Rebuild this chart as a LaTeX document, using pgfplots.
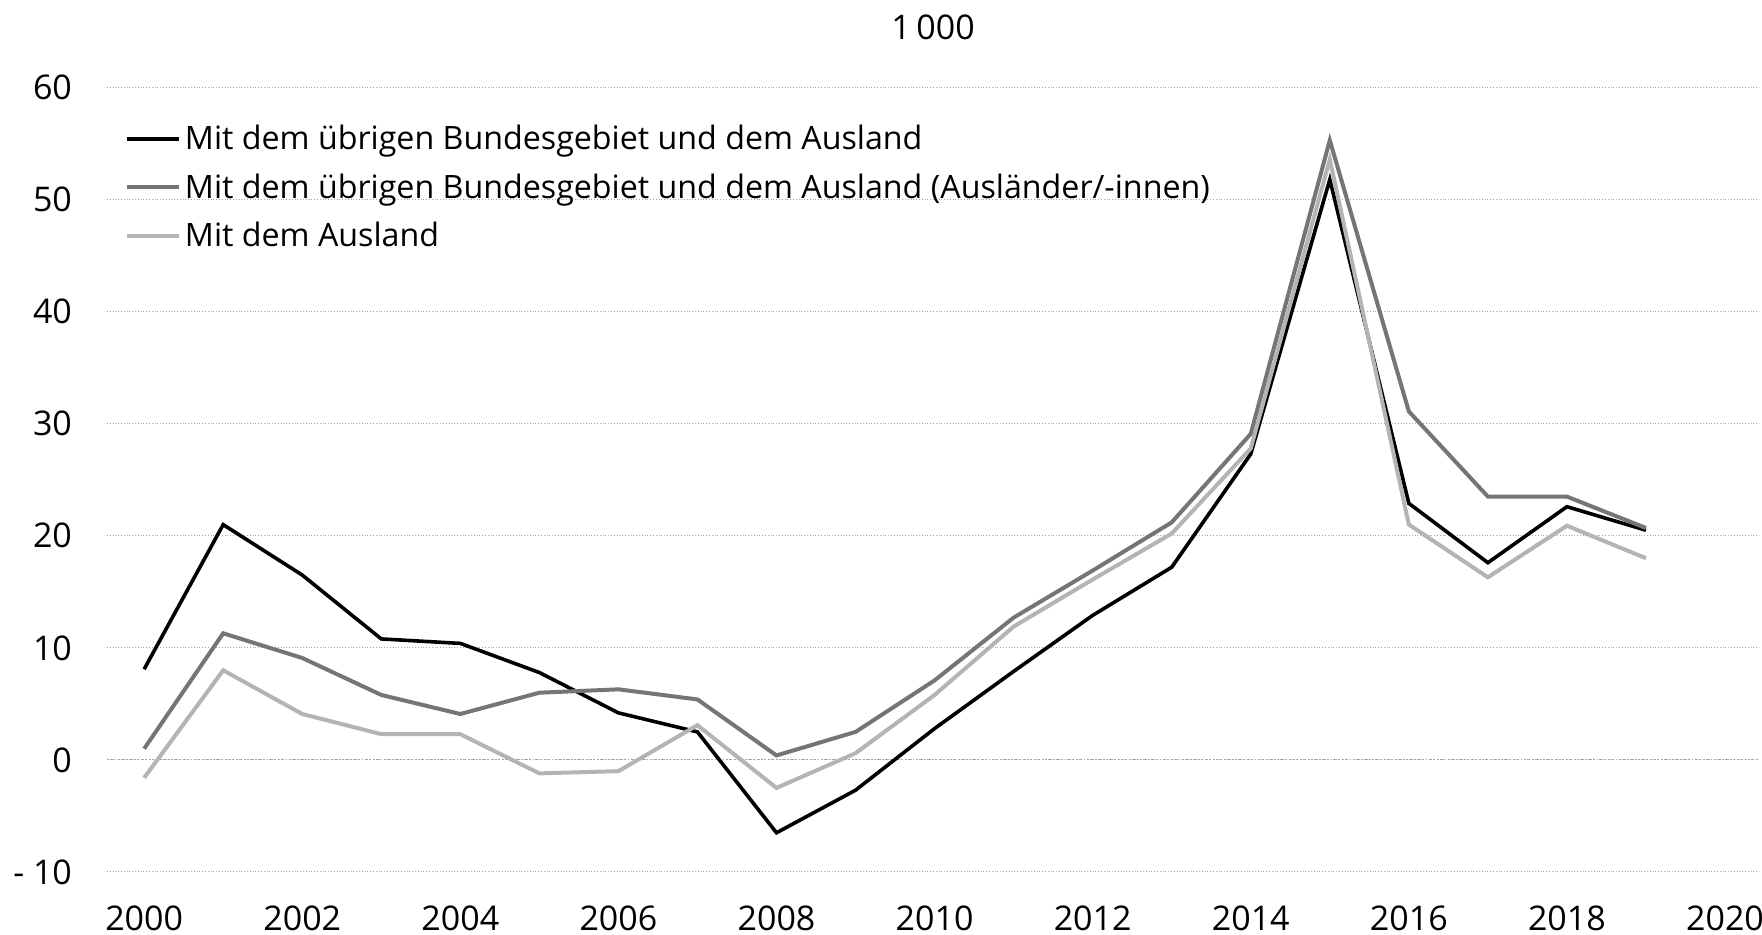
\documentclass[border=0pt]{standalone}
\usepackage{fontspec}
\setmainfont{Open Sans}
\usepackage{pgfplots}
\pgfplotsset{compat=1.18}
\definecolor{sertwo}{HTML}{757575}
\definecolor{serthree}{HTML}{B4B4B4}
\begin{document}
\begin{tikzpicture}
\useasboundingbox (-53.5pt,-31.5pt) rectangle (827.5pt,436pt);
\begin{axis}[
  at={(0pt,0pt)}, anchor=south west,
  scale only axis, width=826pt, height=392.2pt,
  xmin=1999.53, xmax=2020.43, ymin=-10, ymax=60,
  xtick={2000,2002,...,2020}, ytick={-10,0,...,60},
  yticklabels={{- 10},0,10,20,30,40,50,60},
  /pgf/number format/1000 sep={},
  /pgf/number format/assume math mode=true,
  axis line style={draw=none},
  major tick length=0pt,
  tick label style={font=\fontsize{17}{20}\selectfont},
  xticklabel style={yshift=-13.3pt},
  yticklabel style={xshift=-14pt},
  ymajorgrids,
  major grid style={densely dotted, black!35, line width=0.5pt},
  extra y ticks={0}, extra y tick labels={},
  extra y tick style={grid style={black, solid, line width=0.9pt}},
  title={1\,000},
  title style={at={(0.5,1)}, anchor=center, yshift=24pt, font=\fontsize{17}{20}\selectfont},
  legend cell align=left,
  legend style={at={(0,1)}, anchor=north west, xshift=6.8pt, yshift=-14.5pt, draw=none, fill=none,
    font=\fontsize{16.1}{20}\selectfont, row sep=6.6pt, inner sep=2pt},
  legend image code/.code={\draw[#1] (0pt,0pt) -- (26pt,0pt);},
]
\addplot[black, line width=1.8pt] coordinates {
(2000,8.1) (2001,21.0) (2002,16.5) (2003,10.8) (2004,10.4) (2005,7.8) (2006,4.2) (2007,2.5)
(2008,-6.5) (2009,-2.7) (2010,2.8) (2011,7.9) (2012,12.9) (2013,17.2) (2014,27.3) (2015,51.8)
(2016,22.9) (2017,17.6) (2018,22.6) (2019,20.5)};
\addlegendentry{Mit dem übrigen Bundesgebiet und dem Ausland}
\addplot[sertwo, line width=2pt] coordinates {
(2000,1.0) (2001,11.3) (2002,9.1) (2003,5.8) (2004,4.1) (2005,6.0) (2006,6.3) (2007,5.4)
(2008,0.4) (2009,2.5) (2010,7.1) (2011,12.7) (2012,16.9) (2013,21.2) (2014,29.1) (2015,55.3)
(2016,31.1) (2017,23.5) (2018,23.5) (2019,20.7)};
\addlegendentry{Mit dem übrigen Bundesgebiet und dem Ausland (Ausländer/-innen)}
\addplot[serthree, line width=2pt] coordinates {
(2000,-1.6) (2001,8.0) (2002,4.1) (2003,2.3) (2004,2.3) (2005,-1.2) (2006,-1.0) (2007,3.1)
(2008,-2.5) (2009,0.6) (2010,5.8) (2011,11.9) (2012,16.1) (2013,20.2) (2014,27.8) (2015,53.6)
(2016,21.0) (2017,16.3) (2018,20.9) (2019,18.0)};
\addlegendentry{Mit dem Ausland}
\end{axis}
\end{tikzpicture}
\end{document}
